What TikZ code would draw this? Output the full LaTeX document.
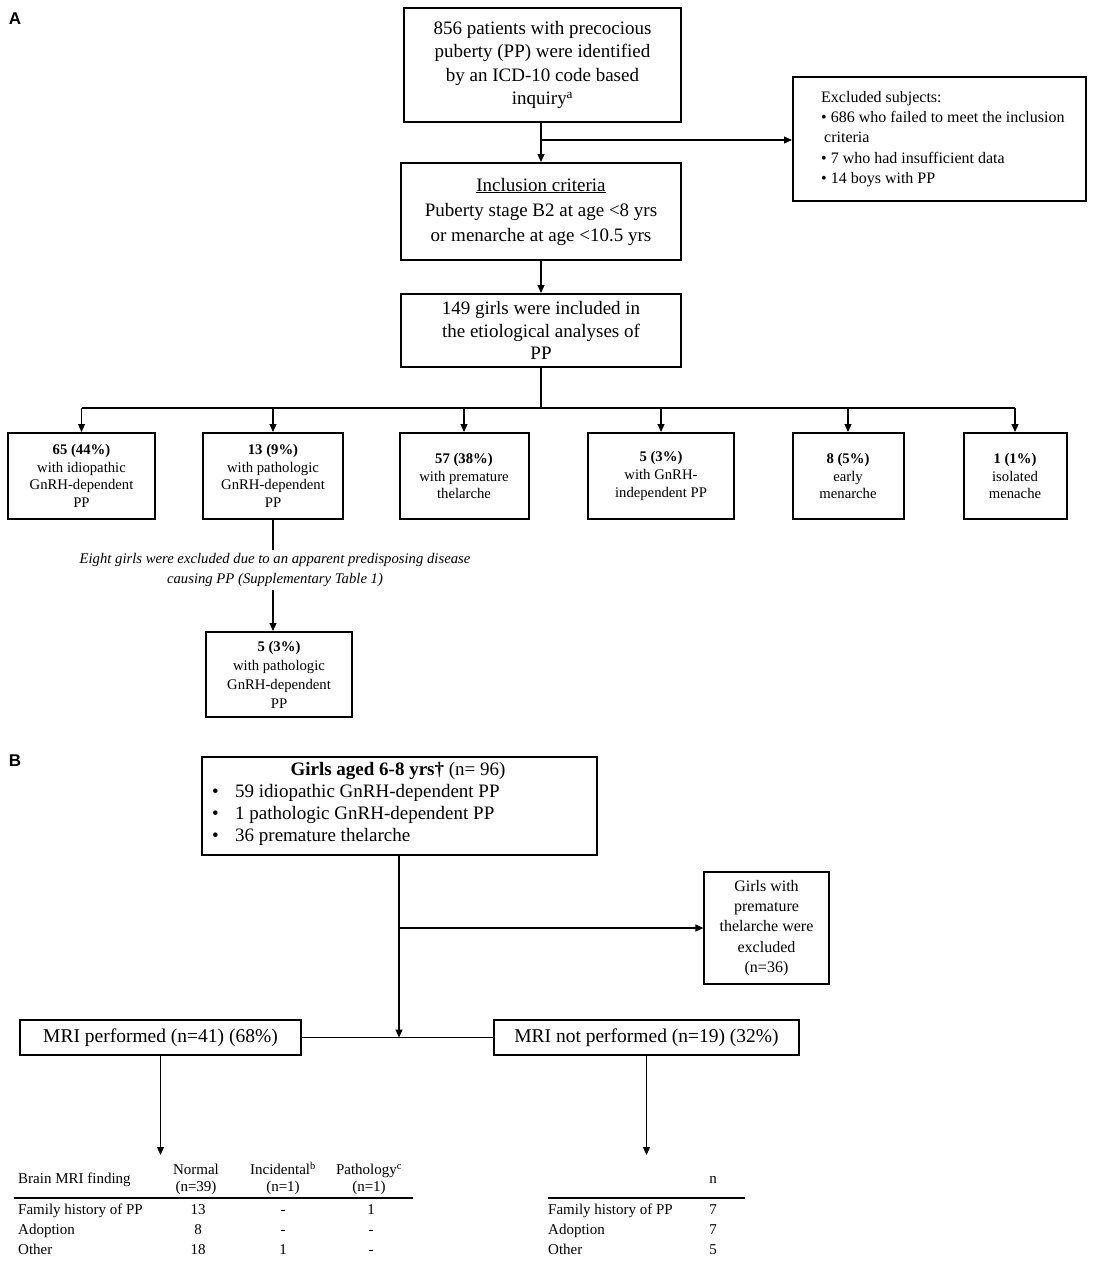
\documentclass[tikz,border=0pt]{standalone}
\usepackage{fontspec}
\setmainfont{Liberation Serif}
\newfontfamily\labfont{Liberation Sans}
\usetikzlibrary{arrows.meta}
\begin{document}
\begin{tikzpicture}[x=1pt,y=-1pt,
  boxA/.style={draw, line width=2pt, align=center, inner sep=0pt},
  boxB/.style={draw, line width=1.2pt, align=center, inner sep=0pt},
  conn/.style={line width=1.2pt},
  arr/.style={conn, -{Triangle[length=8pt,width=7pt]}},
  big/.style={font=\fontsize{19}{23.5}\selectfont},
  small/.style={font=\fontsize{14.7}{17.7}\selectfont},
  tab/.style={font=\fontsize{15}{17}\selectfont, inner sep=0pt, text height=10.5pt, text depth=3pt},
  panel/.style={font=\labfont\bfseries\fontsize{17}{20}\selectfont, inner sep=0pt}
]
\fill[white] (0,0) rectangle (1094,1261);
\useasboundingbox (0,0) rectangle (1094,1261);

% ---------- Panel A ----------
\node[panel] (labA) at (15,19) {A};

\node[boxA, big, minimum width=277, minimum height=114] (top) at (542.5,65)
  {856 patients with precocious\\puberty (PP) were identified\\by an ICD-10 code based\\inquiry\textsuperscript{a}};

\node[boxA, minimum width=293, minimum height=124] (excl) at (939.5,139) {};
\node[anchor=west, align=left, inner sep=0pt, font=\fontsize{16}{20.2}\selectfont] (excltext) at (821,139)
  {Excluded subjects:\\
   \textbullet\ 686 who failed to meet the inclusion\\
   \hspace*{3pt}criteria\\
   \textbullet\ 7 who had insufficient data\\
   \textbullet\ 14 boys with PP};

\node[boxA, font=\fontsize{19}{25}\selectfont, minimum width=280, minimum height=97] (incl) at (541,211.5)
  {\underline{Inclusion criteria}\\Puberty stage B2 at age <8 yrs\\or menarche at age <10.5 yrs};

\node[boxA, font=\fontsize{19}{22.5}\selectfont, minimum width=280, minimum height=73] (inc149) at (541,330.5)
  {149 girls were included in\\the etiological analyses of\\PP};

\coordinate (j1) at (541,140);
\draw[arr] (incl.north |- top.south) -- (incl.north);
\draw[arr] (j1) -- (j1 -| excl.west);
\draw[arr] (incl.south) -- (inc149.north);

\node[boxA, small, minimum width=147, minimum height=86] (c1) at (81.5,476)
  {\textbf{65 (44\%)}\\with idiopathic\\GnRH-dependent\\PP};
\node[boxA, small, minimum width=140, minimum height=86] (c2) at (273,476)
  {\textbf{13 (9\%)}\\with pathologic\\GnRH-dependent\\PP};
\node[boxA, small, minimum width=129, minimum height=86] (c3) at (464,476)
  {\textbf{57 (38\%)}\\with premature\\thelarche};
\node[boxA, small, minimum width=146, minimum height=86] (c4) at (661,476)
  {\textbf{5 (3\%)}\\with GnRH-\\independent PP};
\node[boxA, small, minimum width=111, minimum height=86] (c5) at (848,476)
  {\textbf{8 (5\%)}\\early\\menarche};
\node[boxA, small, minimum width=103, minimum height=86] (c6) at (1015,476)
  {\textbf{1 (1\%)}\\isolated\\menache};

\coordinate (j2) at (541,408);
\draw[conn] (inc149.south) -- (j2);
\draw[conn] (c1.north |- j2) -- (c6.north |- j2);
\foreach \n in {c1,c2,c3,c4,c5,c6}{
  \draw[arr] (\n.north |- j2) -- (\n.north);
}

\node[align=center, inner sep=3pt, font=\itshape\fontsize{14.7}{20}\selectfont] (note) at (275,570)
  {Eight girls were excluded due to an apparent predisposing disease\\causing PP (Supplementary Table 1)};

\node[boxA, font=\fontsize{14.7}{19}\selectfont, minimum width=146, minimum height=85] (d1) at (279,674.5)
  {\textbf{5 (3\%)}\\with pathologic\\GnRH-dependent\\PP};

\draw[conn] (c2.south) -- (c2.south |- note.north);
\draw[arr] (c2.south |- note.south) -- (c2.south |- d1.north);

% ---------- Panel B ----------
\node[panel] (labB) at (15,761) {B};

\node[boxB, minimum width=395, minimum height=98] (girls) at (399.5,806) {};
\node[inner sep=0pt, font=\fontsize{19}{22}\selectfont] (gtitle) at (398,771)
  {\textbf{Girls aged 6-8 yrs\textdagger} (n= 96)};
\node[anchor=west, align=left, inner sep=0pt, font=\fontsize{19}{22}\selectfont] (glist) at (212,815)
  {\makebox[23pt][l]{\textbullet}59 idiopathic GnRH-dependent PP\\
   \makebox[23pt][l]{\textbullet}1 pathologic GnRH-dependent PP\\
   \makebox[23pt][l]{\textbullet}36 premature thelarche};

\node[boxB, font=\fontsize{16}{20.3}\selectfont, minimum width=125, minimum height=112] (exclB) at (766.5,928)
  {Girls with\\premature\\thelarche were\\excluded\\(n=36)};

\node[boxB, font=\fontsize{19.5}{22}\selectfont, minimum width=281, minimum height=35] (mri1) at (160.5,1037.5)
  {MRI performed (n=41) (68\%)};
\node[boxB, font=\fontsize{19.5}{22}\selectfont, minimum width=305, minimum height=35] (mri2) at (646.5,1037.5)
  {MRI not performed (n=19) (32\%)};

\coordinate (j4) at (399,1037.5);
\draw[conn] (mri1.east) -- (mri2.west);
\draw[arr] (girls.south -| j4) -- (j4);
\draw[arr] (j4 |- exclB.west) -- (exclB.west);

\coordinate (t1) at (160.5,1155);
\coordinate (t2) at (646.5,1155);
\draw[arr] (mri1.south) -- (t1);
\draw[arr] (mri2.south) -- (t2);

% left table
\node[tab, anchor=west] (hbrain) at (18,1180) {Brain MRI finding};
\node[tab] (hnorm1) at (196,1171) {Normal};
\node[tab] (hnorm2) at (196,1188) {(n=39)};
\node[tab] (hinc1) at (283,1171) {Incidental\textsuperscript{b}};
\node[tab] (hinc2) at (283,1188) {(n=1)};
\node[tab] (hpat1) at (369,1171) {Pathology\textsuperscript{c}};
\node[tab] (hpat2) at (369,1188) {(n=1)};
\coordinate (r1a) at (14,1198);
\coordinate (r1b) at (413,1198);
\draw[conn] (r1a) -- (r1b);
\node[tab, anchor=west] (l1) at (18,1211) {Family history of PP};
\node[tab, anchor=west] (l2) at (18,1231) {Adoption};
\node[tab, anchor=west] (l3) at (18,1251) {Other};
\node[tab] (v11) at (198,1211) {13};
\node[tab] (v12) at (283,1211) {-};
\node[tab] (v13) at (371,1211) {1};
\node[tab] (v21) at (198,1231) {8};
\node[tab] (v22) at (283,1231) {-};
\node[tab] (v23) at (371,1231) {-};
\node[tab] (v31) at (198,1251) {18};
\node[tab] (v32) at (283,1251) {1};
\node[tab] (v33) at (371,1251) {-};

% right table
\node[tab] (hn) at (713,1180) {n};
\coordinate (r2a) at (548,1198);
\coordinate (r2b) at (745,1198);
\draw[conn] (r2a) -- (r2b);
\node[tab, anchor=west] (m1) at (548,1211) {Family history of PP};
\node[tab, anchor=west] (m2) at (548,1231) {Adoption};
\node[tab, anchor=west] (m3) at (548,1251) {Other};
\node[tab] (w1) at (713,1211) {7};
\node[tab] (w2) at (713,1231) {7};
\node[tab] (w3) at (713,1251) {5};
\end{tikzpicture}
\end{document}
